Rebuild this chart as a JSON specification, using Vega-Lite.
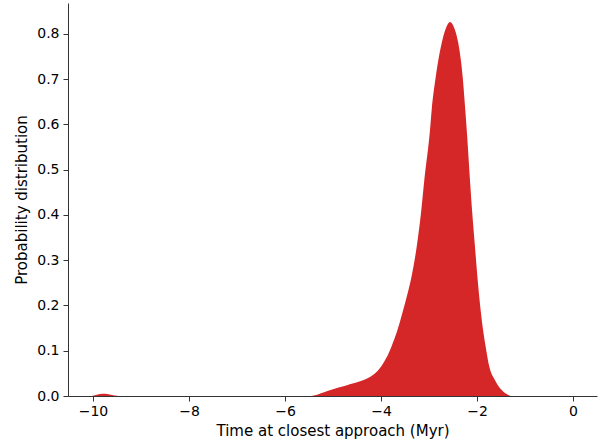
{
  "$schema": "https://vega.github.io/schema/vega-lite/v6.json",
  "width": 529,
  "height": 393,
  "autosize": {"type": "none"},
  "padding": {"left": 68, "top": 3, "right": 9, "bottom": 50},
  "background": "white",
  "config": {
    "view": {"stroke": null},
    "font": "DejaVu Sans"
  },
  "data": {
    "values": [
      {"t": -10.05, "p": 0},
      {"t": -10.0, "p": 0.0005},
      {"t": -9.92, "p": 0.003},
      {"t": -9.8, "p": 0.005},
      {"t": -9.7, "p": 0.0045},
      {"t": -9.6, "p": 0.002},
      {"t": -9.5, "p": 0.0005},
      {"t": -9.45, "p": 0},
      {"t": -5.45, "p": 0},
      {"t": -5.4, "p": 0.001},
      {"t": -5.2, "p": 0.008},
      {"t": -5.0, "p": 0.015},
      {"t": -4.8, "p": 0.021},
      {"t": -4.65, "p": 0.026},
      {"t": -4.45, "p": 0.032},
      {"t": -4.3, "p": 0.038},
      {"t": -4.16, "p": 0.047},
      {"t": -4.05, "p": 0.058},
      {"t": -3.95, "p": 0.073},
      {"t": -3.85, "p": 0.092},
      {"t": -3.75, "p": 0.118},
      {"t": -3.65, "p": 0.148},
      {"t": -3.556, "p": 0.183},
      {"t": -3.45, "p": 0.225},
      {"t": -3.375, "p": 0.258},
      {"t": -3.256, "p": 0.33},
      {"t": -3.167, "p": 0.404},
      {"t": -3.098, "p": 0.477},
      {"t": -2.979, "p": 0.588},
      {"t": -2.944, "p": 0.632},
      {"t": -2.86, "p": 0.705},
      {"t": -2.735, "p": 0.78},
      {"t": -2.65, "p": 0.812},
      {"t": -2.5625, "p": 0.8265},
      {"t": -2.47, "p": 0.812},
      {"t": -2.39, "p": 0.78},
      {"t": -2.298, "p": 0.705},
      {"t": -2.244, "p": 0.632},
      {"t": -2.202, "p": 0.57},
      {"t": -2.146, "p": 0.477},
      {"t": -2.098, "p": 0.404},
      {"t": -2.042, "p": 0.33},
      {"t": -1.985, "p": 0.256},
      {"t": -1.917, "p": 0.183},
      {"t": -1.819, "p": 0.109},
      {"t": -1.744, "p": 0.065},
      {"t": -1.625, "p": 0.035},
      {"t": -1.485, "p": 0.013},
      {"t": -1.348, "p": 0.002},
      {"t": -1.3, "p": 0}
    ]
  },
  "mark": {"type": "area", "color": "#d62728", "interpolate": "monotone", "clip": true},
  "encoding": {
    "x": {
      "field": "t",
      "type": "quantitative",
      "scale": {"domain": [-10.52, 0.5], "nice": false, "zero": false},
      "axis": {
        "title": "Time at closest approach (Myr)",
        "values": [-10, -8, -6, -4, -2, 0],
        "labelExpr": "replace(format(datum.value, 'd'), '-', '\u2212')",
        "grid": false,
        "domainColor": "#333",
        "tickColor": "#333",
        "tickSize": 5,
        "labelPadding": 3,
        "labelFontSize": 14,
        "labelColor": "#000",
        "titleFontSize": 15,
        "titleFontWeight": "normal",
        "titleColor": "#000",
        "titlePadding": 5
      }
    },
    "y": {
      "field": "p",
      "type": "quantitative",
      "scale": {"domain": [0, 0.8685], "nice": false},
      "axis": {
        "title": "Probability distribution",
        "values": [0, 0.1, 0.2, 0.3, 0.4, 0.5, 0.6, 0.7, 0.8],
        "format": ".1f",
        "grid": false,
        "domainColor": "#333",
        "tickColor": "#333",
        "tickSize": 5,
        "labelPadding": 4,
        "labelFontSize": 14,
        "labelColor": "#000",
        "titleFontSize": 15,
        "titleFontWeight": "normal",
        "titleColor": "#000",
        "titlePadding": 7
      }
    }
  }
}
